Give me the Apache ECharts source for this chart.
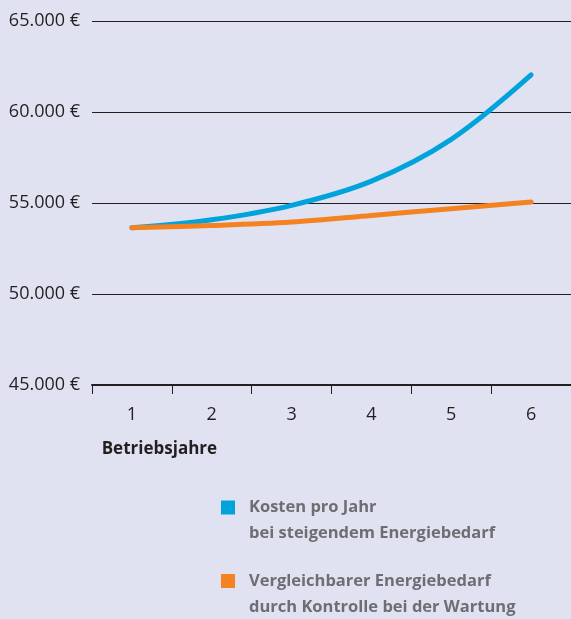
<!DOCTYPE html>
<html>
<head>
<meta charset="utf-8">
<script src="https://cdn.jsdelivr.net/npm/echarts@6/dist/echarts.min.js"></script>
<style>
html,body{margin:0;padding:0;background:#e1e2f1;}
#chart{width:571px;height:619px;}
</style>
</head>
<body>
<div id="chart"></div>
<script>
const categories = ['1', '2', '3', '4', '5', '6'];
const kostenSteigend = [53640, 54080, 54870, 56200, 58500, 62040];
const kostenKontrolle = [53640, 53760, 53950, 54310, 54690, 55060];
const yTickValues = [45000, 50000, 55000, 60000, 65000];
const yTickLabels = ['45.000 €', '50.000 €', '55.000 €', '60.000 €', '65.000 €'];
const seriesNames = [
  'Kosten pro Jahr\nbei steigendem Energiebedarf',
  'Vergleichbarer Energiebedarf\ndurch Kontrolle bei der Wartung'
];
const xAxisTitle = 'Betriebsjahre';

const FONT = '"Open Sans", "Liberation Sans", sans-serif';
const DARK = '#231f20';
const legendIcon = 'path://M0,0L14,0L14,14L0,14Z M0,40L23,40';

const chart = echarts.init(document.getElementById('chart'), null, {renderer: 'canvas'});
chart.setOption({
  backgroundColor: '#e1e2f1',
  animation: false,
  grid: {left: 92, right: 0, top: 21, bottom: 234, containLabel: false},
  xAxis: {
    type: 'category',
    data: categories,
    boundaryGap: true,
    name: xAxisTitle,
    nameLocation: 'start',
    nameGap: -9.7,
    nameTextStyle: {
      fontFamily: FONT, fontSize: 17, fontWeight: 'bold', color: DARK,
      align: 'left', verticalAlign: 'top', padding: [56, 0, 0, 0]
    },
    axisLine: {show: true, lineStyle: {color: DARK, width: 2}},
    axisTick: {show: true, alignWithLabel: false, length: 9, lineStyle: {color: DARK, width: 1}},
    axisLabel: {fontFamily: FONT, fontSize: 18, color: DARK, margin: 21},
    splitLine: {show: false}
  },
  yAxis: {
    type: 'value',
    min: 45000,
    max: 65000,
    interval: 5000,
    axisLine: {show: false},
    axisTick: {show: false},
    axisLabel: {
      fontFamily: FONT, fontSize: 18, color: DARK, margin: 12,
      formatter: function (v) {
        const i = yTickValues.indexOf(v);
        return i >= 0 ? yTickLabels[i] : '';
      }
    },
    splitLine: {show: true, lineStyle: {color: DARK, width: 1}}
  },
  legend: {
    orient: 'vertical',
    left: 221,
    top: 494.5,
    height: 200,
    padding: 0,
    itemGap: 21.5,
    itemWidth: 23,
    itemHeight: 40,
    icon: legendIcon,
    itemStyle: {borderWidth: 0},
    textStyle: {fontFamily: FONT, fontSize: 16.5, fontWeight: 'bold', color: '#6d6e71', lineHeight: 26},
    data: seriesNames
  },
  series: [
    {
      name: seriesNames[0],
      type: 'line',
      data: kostenSteigend,
      smooth: 0.34,
      showSymbol: false,
      symbol: 'none',
      color: '#00a3db',
      lineStyle: {width: 5, color: '#00a3db', cap: 'round', join: 'round'}
    },
    {
      name: seriesNames[1],
      type: 'line',
      data: kostenKontrolle,
      smooth: 0.34,
      showSymbol: false,
      symbol: 'none',
      color: '#f58220',
      lineStyle: {width: 5, color: '#f58220', cap: 'round', join: 'round'}
    }
  ]
});
</script>
</body>
</html>
